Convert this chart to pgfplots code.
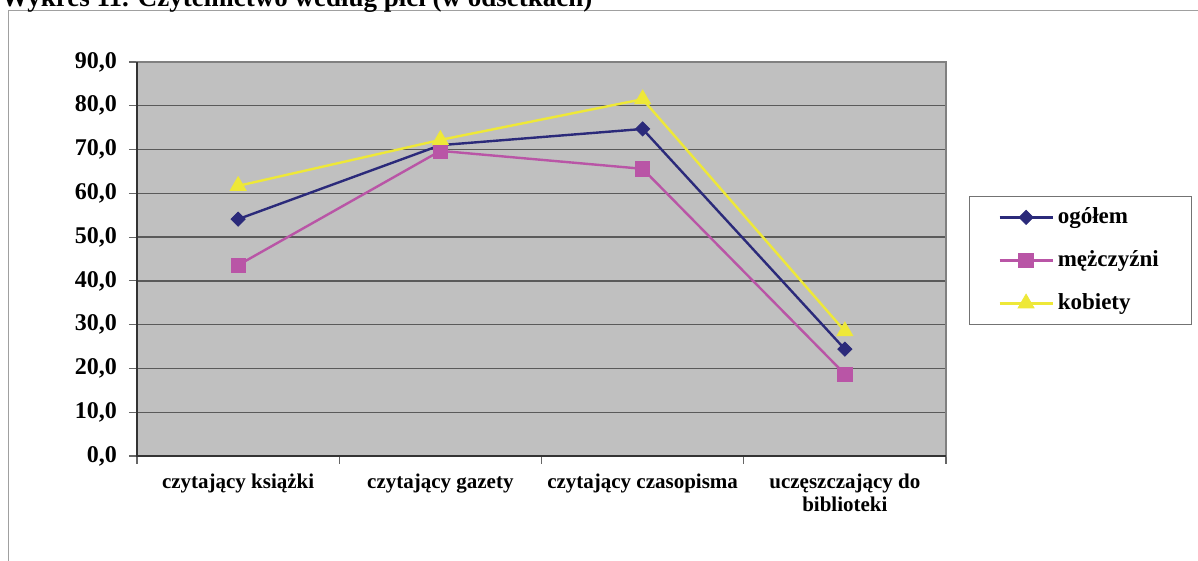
\documentclass[border=0pt]{standalone}
\usepackage{fontspec}
\setmainfont{Liberation Serif}
\usepackage{pgfplots}
\pgfplotsset{compat=1.18}
\definecolor{cnavy}{RGB}{43,42,122}
\definecolor{cmag}{RGB}{185,85,166}
\definecolor{cyel}{RGB}{238,232,56}
\definecolor{cbg}{RGB}{192,192,192}
\definecolor{cgrid}{RGB}{90,90,90}
\definecolor{cframe}{RGB}{160,160,160}
\begin{document}
\begin{tikzpicture}
\useasboundingbox (0,0) rectangle (599pt,280.5pt);
\draw[color=cframe, line width=0.8pt] (4.25pt,-20pt) -- (4.25pt,275.25pt) -- (620pt,275.25pt);
\node[anchor=base west, font=\fontsize{13.5}{16}\selectfont\bfseries, inner sep=0pt] at (0.5pt,277pt) {Wykres 11. Czytelnictwo według płci (w odsetkach)};
\begin{axis}[
  at={(68.5pt,52.5pt)}, anchor=south west,
  width=404.5pt, height=197pt, scale only axis,
  clip=false,
  xmin=-0.5, xmax=3.5, ymin=0, ymax=90,
  ytick={0,10,...,90},
  xtick={-0.5,0.5,1.5,2.5,3.5},
  xticklabels={{},{},{},{},{}},
  extra x ticks={0,1,2,3},
  extra x tick labels={czytający książki, czytający gazety, czytający czasopisma, {\begin{tabular}[t]{@{}c@{}}uczęszczający do\\biblioteki\end{tabular}}},
  extra x tick style={major tick length=0pt, xticklabel style={anchor=base, yshift=-16.5pt, inner sep=0pt, font=\fontsize{10.5}{11.5}\selectfont\bfseries}},
  tick pos=left,
  tick align=outside,
  major tick length=4pt,
  tick style={color=black!60, line width=0.6pt},
  yticklabel style={font=\fontsize{12}{14}\selectfont\bfseries, xshift=-2.5pt},
  /pgf/number format/.cd, fixed, fixed zerofill, precision=1, use comma, assume math mode=true,
  /pgfplots/.cd,
  ymajorgrids,
  major grid style={color=cgrid, line width=0.7pt},
  axis background/.style={fill=cbg},
  axis line style={color=black!50, line width=0.6pt},
  legend image code/.code={\draw[mark repeat=2,mark phase=2] plot coordinates {(0pt,0pt) (13.25pt,0pt) (26.5pt,0pt)};},
  legend style={at={(1.0284,0.66)}, anchor=north west, draw=black!55, fill=white,
    font=\fontsize{11.5}{13}\selectfont\bfseries, row sep=6.5pt, inner xsep=14.5pt, inner ysep=3pt,
    nodes={inner sep=2pt, text height=8.5pt, text depth=2.5pt}},
  legend cell align=left,
]
\addplot[color=cnavy, line width=1.2pt, mark=square*, mark size=2.5pt, mark options={rotate=45, fill=cnavy, draw=cnavy, line width=0.4pt}]
  coordinates {(0,54.1) (1,71.0) (2,74.7) (3,24.4)};
\addlegendentry{ogółem}
\addplot[color=cmag, line width=1.2pt, mark=square*, mark size=3.6pt, mark options={fill=cmag, draw=cmag, line width=0.4pt}]
  coordinates {(0,43.6) (1,69.7) (2,65.6) (3,18.7)};
\addlegendentry{mężczyźni}
\addplot[color=cyel, line width=1.2pt, mark=triangle*, mark size=4.6pt, mark options={fill=cyel, draw=cyel, line width=0.4pt}]
  coordinates {(0,61.7) (1,72.2) (2,81.5) (3,28.5)};
\addlegendentry{kobiety}
\draw[color=black!80, line width=1pt] (rel axis cs:0,1) -- (rel axis cs:0,0) -- (rel axis cs:1,0);
\end{axis}
\end{tikzpicture}
\end{document}
